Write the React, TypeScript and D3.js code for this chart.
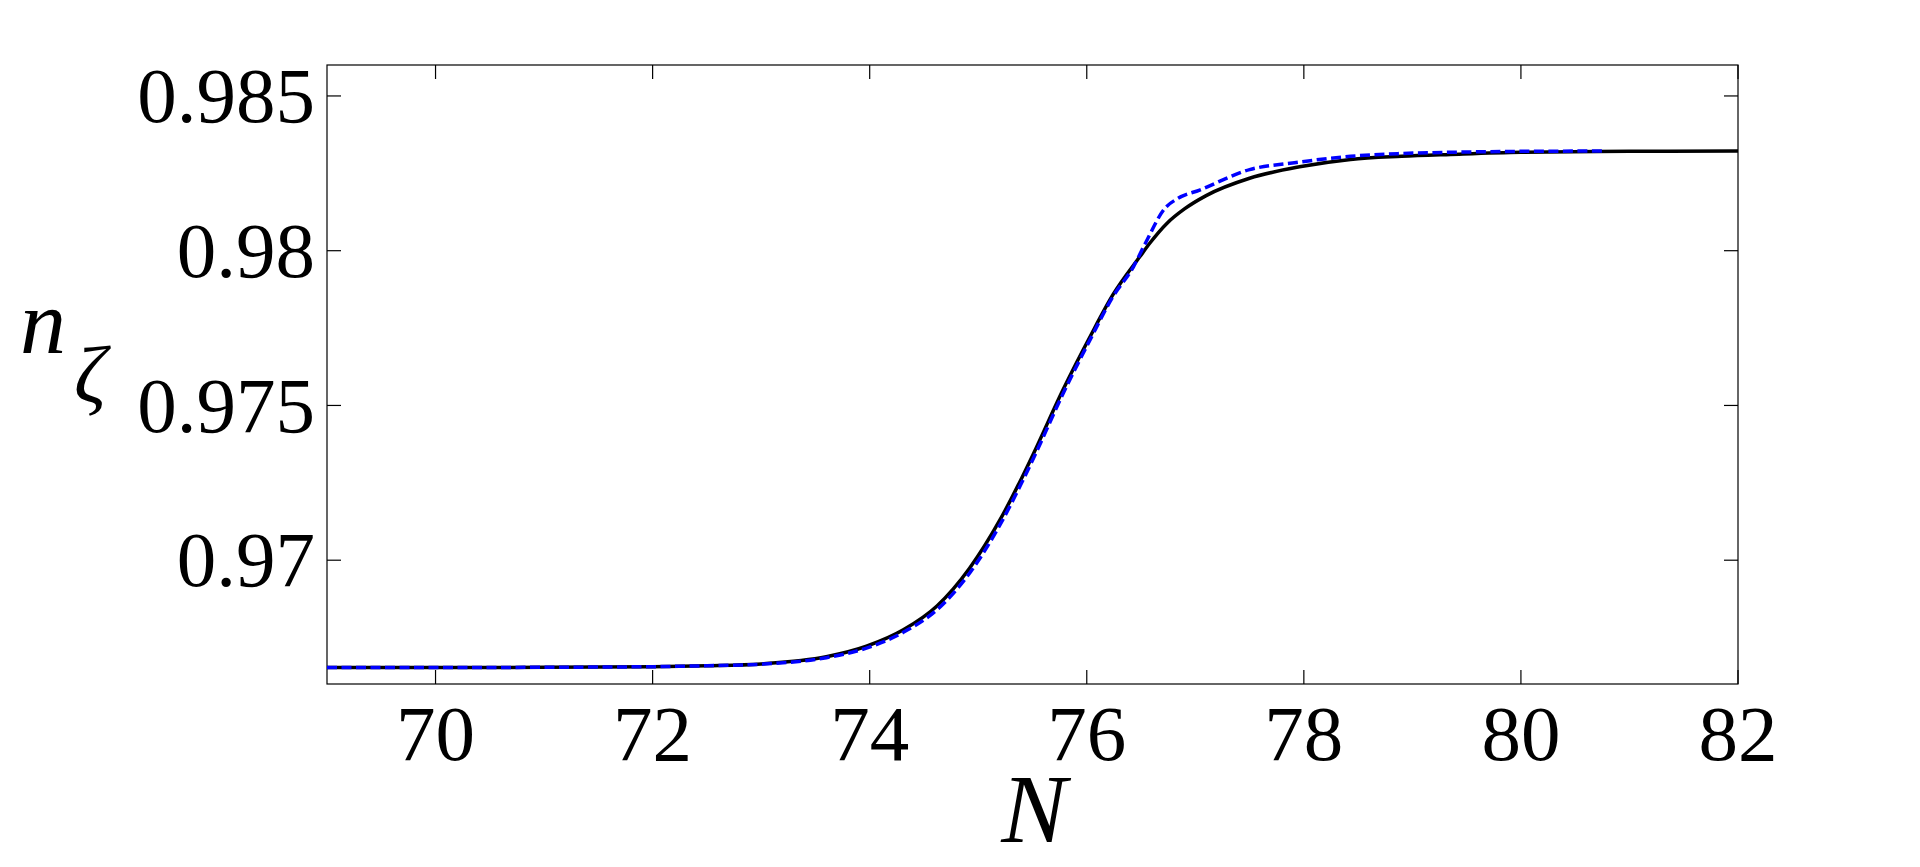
import * as d3 from 'd3';

// ── Data ──────────────────────────────────────────────────────────────────
const blackN = [69, 70, 71, 72, 72.5, 73, 73.6, 73.97, 74.31, 74.62, 74.92, 75.2, 75.4, 75.51, 75.78, 76.03, 76.24, 76.49, 76.58, 76.74, 76.9, 77.1, 77.5, 77.96, 78.43, 78.9, 79.35, 80, 81, 82];
const blackV = [0.96653, 0.96653, 0.96654, 0.96656, 0.96659, 0.96665, 0.96688, 0.96722, 0.96775, 0.96852, 0.96974, 0.9713, 0.97265, 0.97345, 0.9755, 0.97722, 0.97857, 0.97981, 0.98024, 0.98089, 0.98135, 0.98178, 0.98234, 0.98271, 0.98295, 0.98305, 0.98311, 0.98318, 0.98321, 0.98322];

const blueN = [69, 70, 71, 72, 72.5, 73, 73.6, 73.97, 74.31, 74.62, 74.92, 75.2, 75.4, 75.51, 75.78, 76.03, 76.24, 76.43, 76.54, 76.72, 76.84, 77.04, 77.5, 77.93, 78.43, 78.9, 79.35, 80, 80.75];
const blueV = [0.96653, 0.96653, 0.96654, 0.96656, 0.96659, 0.96664, 0.96685, 0.96716, 0.96767, 0.9684, 0.96958, 0.97114, 0.9725, 0.9733, 0.97537, 0.97712, 0.97851, 0.97948, 0.98024, 0.98137, 0.98169, 0.98196, 0.98262, 0.98285, 0.98305, 0.98314, 0.98318, 0.98321, 0.98322];

const xTicks = [70, 72, 74, 76, 78, 80, 82];
const yTicks = [0.97, 0.975, 0.98, 0.985];
const yTickLabels = ['0.97', '0.975', '0.98', '0.985'];

const W = 1920;
const H = 867;
const plot = { left: 327, right: 1738, top: 65, bottom: 684 };
const FONT = 'Liberation Serif';

export default function App() {
  const x = d3.scaleLinear().domain([69, 82]).range([plot.left, plot.right]);
  const y = d3.scaleLinear().domain([0.966, 0.986]).range([plot.bottom, plot.top]);

  const black = blackN.map((n, i) => [n, blackV[i]] as [number, number]);
  const blue = blueN.map((n, i) => [n, blueV[i]] as [number, number]);

  const smooth = d3
    .line<[number, number]>()
    .x(d => x(d[0]))
    .y(d => y(d[1]))
    .curve(d3.curveMonotoneX);

  const tickLen = 14;

  return (
    <svg width={W} height={H} style={{ position: 'absolute', left: 0, top: 0, background: '#fff', fontFamily: FONT }}>
      <rect x={0} y={0} width={W} height={H} fill="#fff" />

      {/* box */}
      <rect x={plot.left} y={plot.top} width={plot.right - plot.left} height={plot.bottom - plot.top} fill="none" stroke="#000" strokeWidth={1.2} />

      {/* x ticks, bottom and top */}
      {xTicks.map(t => (
        <g key={`xt${t}`}>
          <line x1={x(t)} x2={x(t)} y1={plot.bottom} y2={plot.bottom - tickLen} stroke="#000" strokeWidth={1.2} />
          <line x1={x(t)} x2={x(t)} y1={plot.top} y2={plot.top + tickLen} stroke="#000" strokeWidth={1.2} />
          <text x={x(t)} y={760} textAnchor="middle" fontSize={79}>
            {t}
          </text>
        </g>
      ))}

      {/* y ticks, left and right */}
      {yTicks.map((t, i) => (
        <g key={`yt${t}`}>
          <line x1={plot.left} x2={plot.left + tickLen} y1={y(t)} y2={y(t)} stroke="#000" strokeWidth={1.2} />
          <line x1={plot.right} x2={plot.right - tickLen} y1={y(t)} y2={y(t)} stroke="#000" strokeWidth={1.2} />
          <text x={315} y={y(t)} dy="0.33em" textAnchor="end" fontSize={79}>
            {yTickLabels[i]}
          </text>
        </g>
      ))}

      {/* curves */}
      <path d={smooth(black) ?? ''} fill="none" stroke="#000" strokeWidth={3.5} />
      <path d={smooth(blue) ?? ''} fill="none" stroke="#0000ff" strokeWidth={3.5} strokeDasharray="10 4.5" />

      {/* axis labels */}
      <text x={1034} y={842} textAnchor="middle" fontSize={98} fontStyle="italic">
        N
      </text>
      <text x={20} y={353} fontSize={92} fontStyle="italic">
        n
      </text>
      <text x={74} y={402} fontSize={80} fontStyle="italic">
        ζ
      </text>
    </svg>
  );
}
